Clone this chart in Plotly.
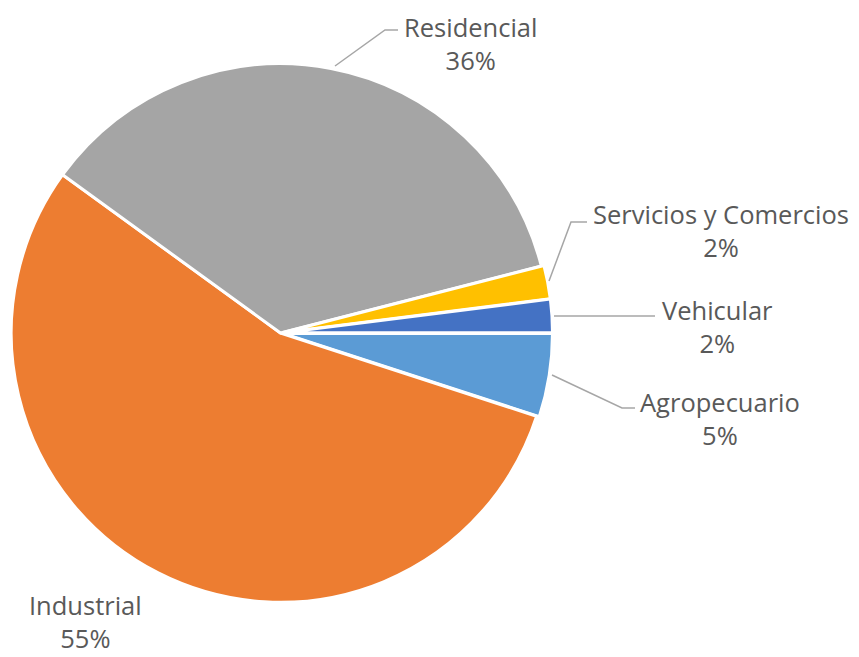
import plotly.graph_objects as go

# datos del grafico
sectores = ["Agropecuario", "Industrial", "Residencial", "Servicios y Comercios", "Vehicular"]
porcentajes = [5, 55, 36, 2, 2]
colores = ["#5B9BD5", "#ED7D31", "#A5A5A5", "#FFC000", "#4472C4"]
separacion = [0.01, 0, 0, 0.01, 0.01]

# la pagina deja 8px de margen en el body
OFF = 8
W, H = 859 - OFF, 657 - OFF

def px2paper(x, y):
    # x, y en pixeles de pantalla
    return (x - OFF) / W, 1 - (y - OFF) / H

cx0, cy0, rad = 281 - OFF, 333 - OFF, 272
fig = go.Figure(go.Pie(
    labels=sectores,
    values=porcentajes,
    sort=False,
    direction="clockwise",
    rotation=90,
    pull=separacion,
    marker=dict(colors=colores, line=dict(color="white", width=3)),
    textinfo="none",
    hoverinfo="label+percent",
    domain=dict(x=[0, (cx0 + rad) / W], y=[1 - (cy0 + rad) / H, 1 - (cy0 - rad) / H]),
    showlegend=False,
))

# etiquetas (centro en pixeles de pantalla)
pos_etiquetas = {
    "Residencial": (470, 43),
    "Servicios y Comercios": (721, 230),
    "Vehicular": (717, 326),
    "Agropecuario": (720, 418),
    "Industrial": (85, 621),
}
total = sum(porcentajes)
for nombre, valor in zip(sectores, porcentajes):
    cx, cy = pos_etiquetas[nombre]
    xp, yp = px2paper(cx, cy)
    fig.add_annotation(
        x=xp, y=yp, xref="paper", yref="paper",
        xanchor="center", yanchor="middle",
        text=f"{nombre}<br>{round(100 * valor / total)}%",
        showarrow=False, align="center",
        font=dict(family="Open Sans", size=25.5, color="#595959"),
    )

# lineas guia
guias = [
    [(335, 66), (385, 30), (398, 30)],
    [(549, 281), (571, 222), (587, 222)],
    [(554, 316), (655, 316)],
    [(552, 375), (622, 408), (635, 408)],
]
for puntos in guias:
    pp = [px2paper(x, y) for x, y in puntos]
    path = "M " + " L ".join(f"{x},{y}" for x, y in pp)
    fig.add_shape(type="path", path=path, xref="paper", yref="paper",
                  line=dict(color="#A6A6A6", width=1.5))

fig.update_layout(
    width=W, height=H,
    margin=dict(l=0, r=0, t=0, b=0),
    paper_bgcolor="white",
    plot_bgcolor="white",
)

fig.write_html("out.html")
